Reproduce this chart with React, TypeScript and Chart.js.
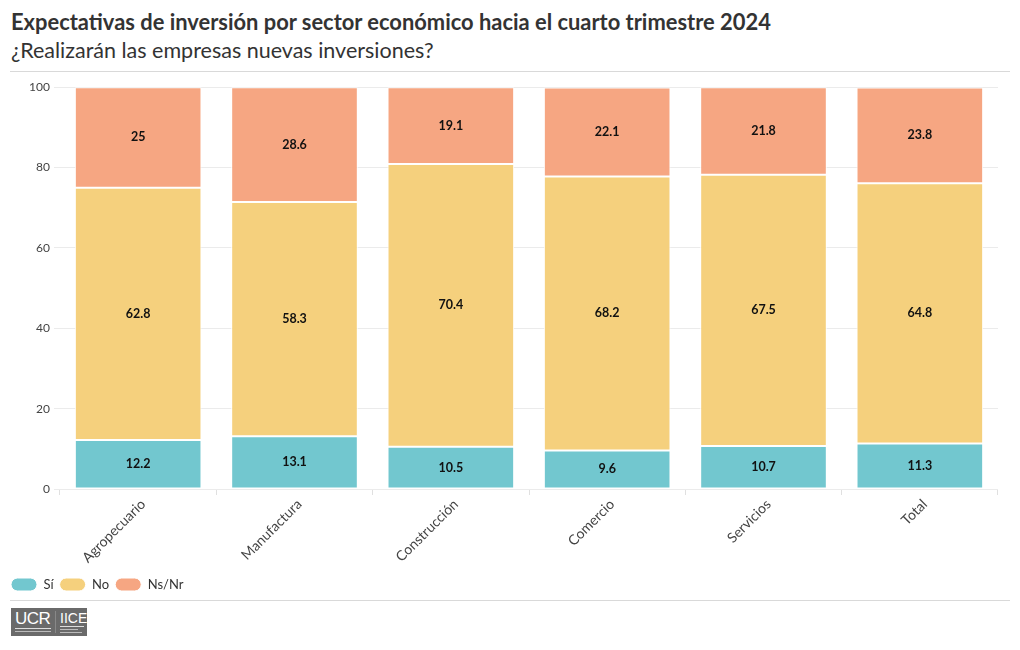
import React, { useEffect, useRef } from "react";
import { Chart, registerables } from "chart.js";

Chart.register(...registerables);

const categories = ["Agropecuario", "Manufactura", "Construcción", "Comercio", "Servicios", "Total"];
const si = [12.2, 13.1, 10.5, 9.6, 10.7, 11.3];
const no = [62.8, 58.3, 70.4, 68.2, 67.5, 64.8];
const nsnr = [25, 28.6, 19.1, 22.1, 21.8, 23.8];
const yTicks = [0, 20, 40, 60, 80, 100];

const FONT = "Lato, 'Open Sans', sans-serif";

const valueLabels = {
  id: "valueLabels",
  afterDatasetsDraw(chart: any) {
    const ctx = chart.ctx;
    ctx.save();
    ctx.font = `bold 12.5px ${FONT}`;
    ctx.fillStyle = "#111";
    ctx.textAlign = "center";
    ctx.textBaseline = "middle";
    chart.data.datasets.forEach((ds: any, i: number) => {
      const meta = chart.getDatasetMeta(i);
      meta.data.forEach((bar: any, j: number) => {
        const { x, y, base } = bar.getProps(["x", "y", "base"], true);
        ctx.fillText(String(ds.data[j]), x, (y + base) / 2);
      });
    });
    ctx.restore();
  },
};

export default function App() {
  const ref = useRef<HTMLCanvasElement>(null);
  useEffect(() => {
    if (!ref.current) return;
    const chart = new Chart(ref.current, {
      type: "bar",
      data: {
        labels: categories,
        datasets: [
          { label: "Sí", data: si, backgroundColor: "#72c7cf", borderColor: "#ffffff", borderWidth: 1, borderSkipped: false },
          { label: "No", data: no, backgroundColor: "#f5d07d", borderColor: "#ffffff", borderWidth: 1, borderSkipped: false },
          { label: "Ns/Nr", data: nsnr, backgroundColor: "#f6a682", borderColor: "#ffffff", borderWidth: 1, borderSkipped: false },
        ],
      },
      options: {
        responsive: false,
        animation: false,
        layout: { padding: { left: 5, right: 22, top: 11, bottom: 0 } },
        datasets: { bar: { categoryPercentage: 0.81, barPercentage: 1 } },
        scales: {
          x: {
            stacked: true,
            grid: { display: true, drawOnChartArea: false, color: "#e0e0e0", tickLength: 6 },
            border: { display: false },
            ticks: { minRotation: 45, maxRotation: 45, color: "#444", font: { family: FONT, size: 14 }, padding: 1, labelOffset: 5 },
            afterFit(scale: any) { scale.height = 83; },
          },
          y: {
            stacked: true,
            min: 0,
            max: 100,
            afterBuildTicks(scale: any) { scale.ticks = yTicks.map((v) => ({ value: v })); },
            grid: { color: "#ebebeb", tickLength: 6 },
            border: { display: false },
            ticks: { color: "#444", font: { family: FONT, size: 12 }, padding: 4 },
            afterFit(scale: any) { scale.width = 55; },
          },
        },
        plugins: {
          legend: {
            position: "bottom",
            align: "start",
            labels: {
              boxWidth: 26,
              boxHeight: 13,
              useBorderRadius: true,
              borderRadius: 6.5,
              color: "#333",
              font: { family: FONT, size: 13 },
              padding: 6,
            },
          },
          tooltip: { enabled: false },
        },
      },
      plugins: [valueLabels],
    } as any);
    return () => chart.destroy();
  }, []);

  const tiny = { height: 1, background: "#bbb" } as React.CSSProperties;

  return (
    <div style={{ position: "absolute", left: 0, top: 0, width: 1020, height: 650, background: "#fff", fontFamily: FONT, overflow: "hidden" }}>
      <div style={{ position: "absolute", left: 11, top: 8, fontSize: 21.9, fontWeight: 700, color: "#333", whiteSpace: "nowrap" }}>
        Expectativas de inversión por sector económico hacia el cuarto trimestre 2024
      </div>
      <div style={{ position: "absolute", left: 11, top: 37, fontSize: 21.5, color: "#333", whiteSpace: "nowrap" }}>
        ¿Realizarán las empresas nuevas inversiones?
      </div>
      <div style={{ position: "absolute", left: 10, top: 71, width: 1000, height: 1, background: "#d9d9d9" }} />
      <canvas ref={ref} width={1020} height={525} style={{ position: "absolute", left: 0, top: 76 }} />
      <div style={{ position: "absolute", left: 10, top: 600, width: 1000, height: 1, background: "#d9d9d9" }} />
      <div style={{ position: "absolute", left: 11, top: 608, width: 76, height: 28, background: "#6a6a6a", color: "#fff", fontFamily: "'Liberation Sans', sans-serif" }}>
        <div style={{ position: "absolute", left: 4, top: 2, fontSize: 17, lineHeight: "17px", letterSpacing: -0.5 }}>UCR</div>
        <div style={{ position: "absolute", left: 4, top: 20, width: 36, height: 1, background: "#ddd" }} />
        <div style={{ position: "absolute", left: 4, top: 23, width: 36, ...tiny }} />
        <div style={{ position: "absolute", left: 44, top: 3, width: 1, height: 22, background: "#888" }} />
        <div style={{ position: "absolute", left: 49, top: 3, fontSize: 14, lineHeight: "14px" }}>IICE</div>
        <div style={{ position: "absolute", left: 49, top: 18, width: 24, height: 1, background: "#ddd" }} />
        <div style={{ position: "absolute", left: 49, top: 21, width: 18, ...tiny }} />
        <div style={{ position: "absolute", left: 49, top: 24, width: 22, ...tiny }} />
      </div>
    </div>
  );
}
